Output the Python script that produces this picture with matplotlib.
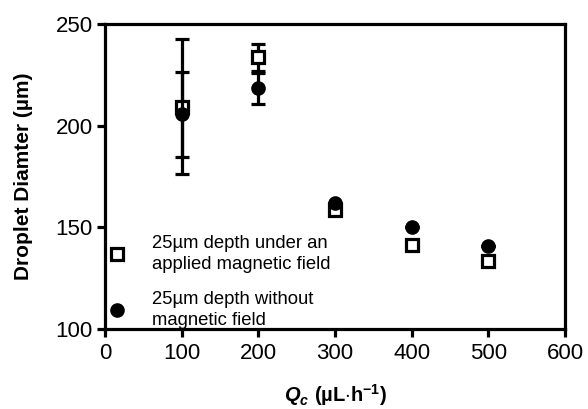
import numpy as np
import matplotlib.pyplot as plt
from matplotlib.lines import Line2D

plt.rcParams['font.family'] = ['Liberation Sans', 'DejaVu Sans']
plt.rcParams['mathtext.fontset'] = 'custom'
plt.rcParams['mathtext.it'] = 'Liberation Sans:italic:bold'
plt.rcParams['mathtext.rm'] = 'Liberation Sans:bold'
plt.rcParams['mathtext.bf'] = 'Liberation Sans:bold'

# flow rate Qc (uL/h)
qc = [100, 200, 300, 400, 500]

# with magnetic field (open squares)
d_field = [209.3, 233.6, 158.6, 141.3, 133.6]
e_field = [33.3, 6.6, 0, 0, 0]

# without magnetic field (filled circles)
d_nofield = [205.5, 218.4, 161.8, 150.3, 140.9]
e_nofield = [20.7, 7.7, 0, 0, 0]

lab_field = '25µm depth under an\napplied magnetic field'
lab_nofield = '25µm depth without\nmagnetic field'

fig = plt.figure(figsize=(5.88, 4.09), dpi=100)
ax = fig.add_axes([0.1786, 0.1956, 0.7824, 0.7457])

lw = 2.3
ax.errorbar(qc, d_field, yerr=e_field, fmt='s', color='black', mfc='white',
            mec='black', mew=lw, ms=8.5, elinewidth=lw, capsize=4.7, capthick=lw,
            zorder=2)
ax.errorbar(qc, d_nofield, yerr=e_nofield, fmt='o', color='black',
            ms=9.5, elinewidth=lw, capsize=4.7, capthick=lw, zorder=3)

ax.set_xlim(0, 600)
ax.set_ylim(100, 250)
ax.set_xticks([0, 100, 200, 300, 400, 500, 600])
ax.set_yticks([100, 150, 200, 250])
for s in ax.spines.values():
    s.set_linewidth(lw)
ax.tick_params(width=lw, length=5.8, labelsize=16)
ax.tick_params(axis='y', pad=3)
ax.tick_params(axis='x', pad=4)

ax.set_xlabel(r'$Q_c\ \mathrm{(µL{\cdot}h^{-1})}$', fontsize=14.5, labelpad=13)
ax.set_ylabel('Droplet Diamter (µm)', fontsize=15, fontweight='bold', labelpad=16)

handles = [
    Line2D([], [], ls='none', marker='s', ms=8.5, mfc='white', mec='black', mew=lw),
    Line2D([], [], ls='none', marker='o', ms=9.5, color='black'),
]
leg = ax.legend(handles, [lab_field, lab_nofield], loc='lower left',
                bbox_to_anchor=(0.006, 0.0), frameon=False, fontsize=13.3,
                handlelength=1.0, handletextpad=1.4, labelspacing=1.0,
                borderaxespad=0, borderpad=0)
for t in leg.get_texts():
    t.set_linespacing(1.3)

fig.savefig('out.png', dpi=100)
